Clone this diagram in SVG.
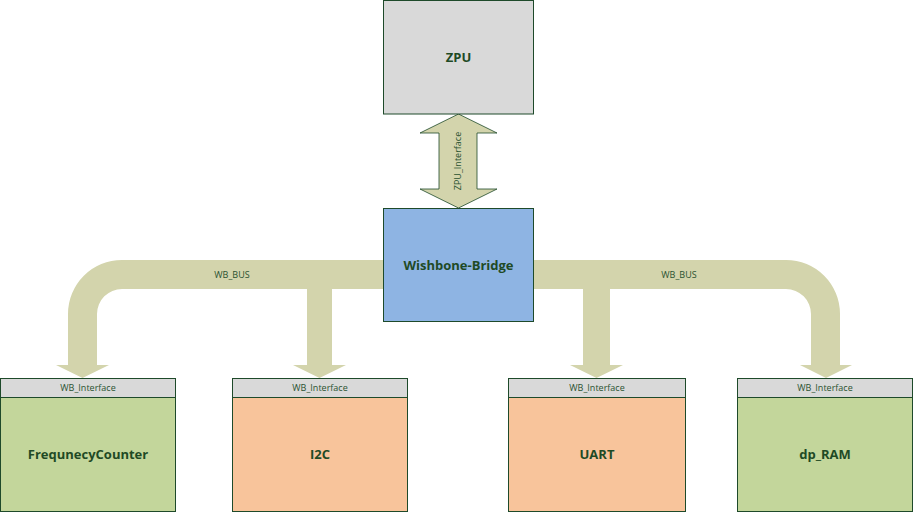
<svg xmlns="http://www.w3.org/2000/svg" width="913" height="512" viewBox="0 0 913 512">
<style>
.box{stroke:#1e4a2a;stroke-width:1}
.hdr{fill:#d9d9d9;stroke:#1e4a2a;stroke-width:1}
.title{font-family:"Open Sans","Liberation Sans",sans-serif;font-weight:bold;font-size:13px;fill:#1f4a25;text-anchor:middle}
.small{font-family:"Open Sans","Liberation Sans",sans-serif;font-size:9px;fill:#2a5230;text-anchor:middle}
.bus{fill:#d3d4ac;stroke:none}
</style>
<rect width="913" height="512" fill="#ffffff"/>
<g id="connectors">
<path class="bus" d="M384,260 H122 A54,54 0 0 0 68,314 V365 H56 L82.5,378 L109,365 H97 V314 A25,25 0 0 1 122,289 H384 Z"/>
<path class="bus" d="M307,288 V365 H293 L319.5,378 L346,365 H332 V288 Z"/>
<path class="bus" d="M533,260 H786 A54,54 0 0 1 840,314 V365 H852 L826,378 L800,365 H811 V314 A25,25 0 0 0 786,289 H533 Z"/>
<path class="bus" d="M583,288 V365 H570 L596.5,378 L623,365 H610 V288 Z"/>
<text class="small" x="232" y="278">WB_BUS</text>
<text class="small" x="679" y="278">WB_BUS</text>
<path d="M458.5,114 L497,133 H477 V189 H497 L458.5,208 L420,189 H439 V133 H420 Z" fill="#d3d4ac" stroke="#1e4a2a" stroke-width="0.8"/>
<text class="small" transform="translate(461,161) rotate(-90)">ZPU_Interface</text>
</g>
<g id="zpu">
<rect class="box" x="383.5" y="0.5" width="150" height="113.5" fill="#d9d9d9"/>
<text class="title" x="458.5" y="62">ZPU</text>
</g>
<g id="wishbone-bridge">
<rect class="box" x="383.5" y="208.5" width="150" height="113" fill="#8eb4e3"/>
<text class="title" x="458.5" y="270">Wishbone-Bridge</text>
</g>
<g id="frequency-counter">
<rect class="box" x="0.5" y="378.5" width="175" height="133" fill="#c3d69b"/>
<rect class="hdr" x="0.5" y="378.5" width="175" height="19"/>
<text class="small" x="88" y="391">WB_Interface</text>
<text class="title" x="88" y="459">FrequnecyCounter</text>
</g>
<g id="i2c">
<rect class="box" x="232.5" y="378.5" width="175" height="133" fill="#f8c49b"/>
<rect class="hdr" x="232.5" y="378.5" width="175" height="19"/>
<text class="small" x="320" y="391">WB_Interface</text>
<text class="title" x="320" y="459">I2C</text>
</g>
<g id="uart">
<rect class="box" x="508.5" y="378.5" width="177" height="133" fill="#f8c49b"/>
<rect class="hdr" x="508.5" y="378.5" width="177" height="19"/>
<text class="small" x="597" y="391">WB_Interface</text>
<text class="title" x="597" y="459">UART</text>
</g>
<g id="dp-ram">
<rect class="box" x="737.5" y="378.5" width="175" height="133" fill="#c3d69b"/>
<rect class="hdr" x="737.5" y="378.5" width="175" height="19"/>
<text class="small" x="825" y="391">WB_Interface</text>
<text class="title" x="825" y="459">dp_RAM</text>
</g>
</svg>
